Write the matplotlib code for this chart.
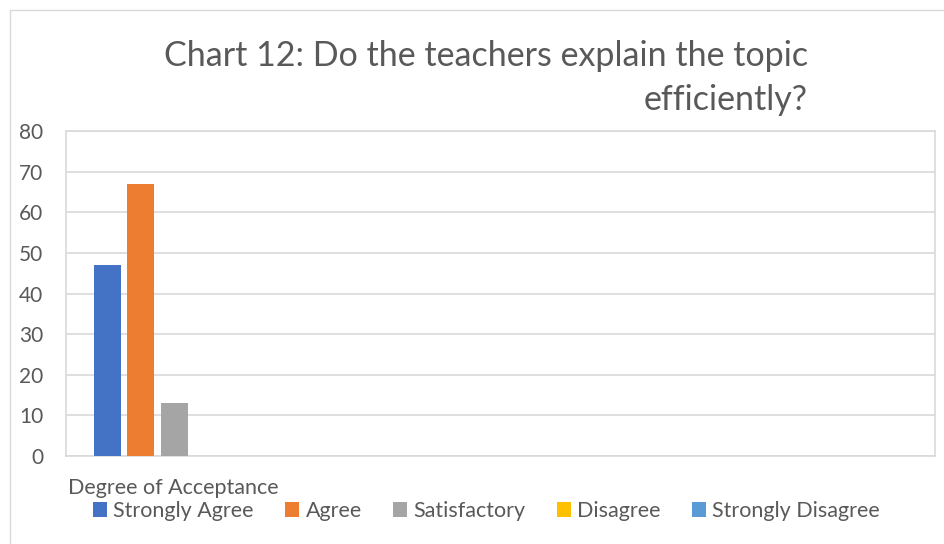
import matplotlib
matplotlib.use("Agg")
import matplotlib.pyplot as plt
from matplotlib.patches import Rectangle

series = ["Strongly Agree", "Agree", "Satisfactory", "Disagree", "Strongly Disagree"]
values = [47, 67, 13, 0, 0]
colors = ["#4472C4", "#ED7D31", "#A5A5A5", "#FFC000", "#5B9BD5"]
yticks = [0, 10, 20, 30, 40, 50, 60, 70, 80]
category = "Degree of Acceptance"
title = "Chart 12: Do the teachers explain the topic\nefficiently?"

plt.rcParams['font.family'] = ['Lato', 'DejaVu Sans']
W, H = 945, 544
fig = plt.figure(figsize=(W/100, H/100), dpi=100)
fig.patch.set_facecolor("white")

# outer chart frame
fig.add_artist(Rectangle((10/W, -0.01), (W-10)/W, 1 - 10/H + 0.01, transform=fig.transFigure,
                         fill=False, edgecolor="#d9d9d9", lw=1.0))

ax = fig.add_axes([66/W, 1-456/H, (935-66)/W, (456-131)/H])
bw = 0.18
step = 0.222
center = 0.5
for i, (s, v, c) in enumerate(zip(series, values, colors)):
    x = center + (i - 1) * step
    ax.bar(x, v, width=bw, color=c, label=s, zorder=3)

ax.set_xlim(0, 5.8)
ax.set_ylim(0, 80)
ax.set_yticks(yticks)
ax.set_xticks([])
ax.yaxis.grid(True, color="#d9d9d9", lw=1.2, zorder=0)
for sp in ax.spines.values():
    sp.set_color("#d9d9d9")
    sp.set_linewidth(1.2)
ax.tick_params(axis='y', length=0, pad=16.5, labelsize=15, labelcolor="#595959")

fig.text(808/W, 1-40/H, title, ha='right', va='top', multialignment='right',
         fontsize=24.5, color="#595959", linespacing=1.45)

fig.text(68/W, 1-488/H, category, ha='left', va='center', fontsize=15.5, color="#595959")

handles, labels = ax.get_legend_handles_labels()
leg = fig.legend(handles, labels, loc='center left', bbox_to_anchor=(93/W, 1-511/H),
                 ncol=5, frameon=False, fontsize=15.5, handlelength=0.65, handleheight=0.65,
                 handletextpad=0.3, columnspacing=1.45, borderaxespad=0, borderpad=0)
for t in leg.get_texts():
    t.set_color("#595959")

fig.savefig("out.png", dpi=100, facecolor="white")
